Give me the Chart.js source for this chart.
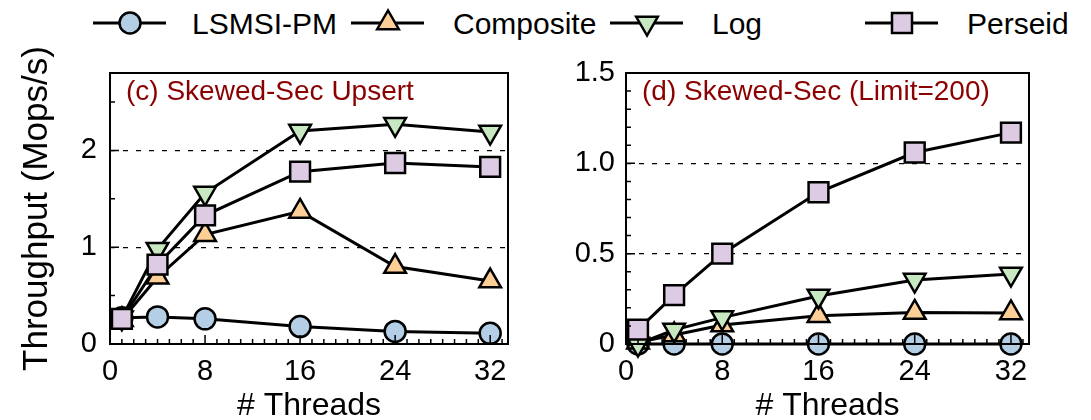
<!DOCTYPE html>
<html>
<head>
<meta charset="utf-8">
<script src="https://cdn.jsdelivr.net/npm/chart.js@4"></script>
<style>
body { margin: 0; background: #fff; }
#wrap { position: relative; width: 1091px; height: 420px; overflow: hidden; font-family: "Liberation Sans", Arial, sans-serif; }
canvas { position: absolute; top: 0; }
#legend { position: absolute; left: 0; top: 0; }
</style>
</head>
<body>
<div id="wrap">
<svg id="legend" width="1091" height="48"></svg>
<canvas id="chartC" width="545" height="420" style="left:0px"></canvas>
<canvas id="chartD" width="546" height="420" style="left:545px"></canvas>
</div>
<script>
const threads = [1, 4, 8, 16, 24, 32];
const seriesNames = ['LSMSI-PM', 'Composite', 'Log', 'Perseid'];

// (c) Skewed-Sec Upsert, Mops/s
const upsertLsmsi = [0.27, 0.28, 0.26, 0.18, 0.13, 0.11];
const upsertComposite = [0.25, 0.69, 1.13, 1.37, 0.80, 0.65];
const upsertLog = [0.27, 0.98, 1.56, 2.20, 2.27, 2.19];
const upsertPerseid = [0.26, 0.82, 1.33, 1.78, 1.87, 1.83];

// (d) Skewed-Sec (Limit=200), Mops/s
const limitLsmsi = [0.0, 0.0, 0.0, 0.0, 0.0, 0.0];
const limitComposite = [0.01, 0.05, 0.105, 0.157, 0.175, 0.172];
const limitLog = [0.0, 0.078, 0.146, 0.266, 0.354, 0.387];
const limitPerseid = [0.08, 0.27, 0.50, 0.84, 1.06, 1.17];

const xTicks = [0, 8, 16, 24, 32];
const upsertYTicks = [0, 1, 2];
const limitYTicks = [0, 0.5, 1.0, 1.5];

const FONT = '"Liberation Sans", Arial, sans-serif';
const styles = [
    {fill: '#b3cee5', shape: 'circle', r: 10.5, rot: 0, order: 3},
    {fill: '#fdcf96', shape: 'triangle', r: 12.5, rot: 0, order: 2},
    {fill: '#c8e8c1', shape: 'triangle', r: 12.5, rot: 180, order: 1},
    {fill: '#ddcbe3', shape: 'rect', r: 14, rot: 0, order: 0}
];

// frame box + inward ticks like the matplotlib original
const frameTicks = {
    id: 'frameTicks',
    afterDatasetsDraw(chart, args, o) {
        const {ctx, chartArea: a, scales: {x, y}} = chart;
        ctx.save();
        ctx.strokeStyle = '#000';
        ctx.lineWidth = 1.5;
        ctx.beginPath();
        for (let i = 1; i <= 33; i++) {
            const px = x.getPixelForValue(i);
            const len = (i % 8 === 0) ? 9 : 5;
            ctx.moveTo(px, a.bottom);
            ctx.lineTo(px, a.bottom - len);
        }
        const n = Math.round(y.max / o.yMinor);
        for (let i = 1; i < n; i++) {
            const v = i * o.yMinor;
            const py = y.getPixelForValue(v);
            const major = Math.abs(v / o.yMajor - Math.round(v / o.yMajor)) < 1e-6;
            ctx.moveTo(a.left, py);
            ctx.lineTo(a.left + (major ? 9 : 5), py);
        }
        ctx.stroke();
        ctx.lineWidth = 2;
        ctx.strokeRect(a.left, a.top, a.right - a.left, a.bottom - a.top);
        ctx.restore();
    }
};

const panelTitle = {
    id: 'panelTitle',
    afterDraw(chart, args, o) {
        const {ctx, chartArea: a} = chart;
        ctx.save();
        ctx.fillStyle = '#8b0000';
        ctx.font = '28px ' + FONT;
        ctx.textBaseline = 'middle';
        ctx.fillText(o.text, a.left + o.dx, 92);
        ctx.restore();
    }
};

function makePanel(id, values, opts) {
    const datasets = values.map((vals, i) => ({
        label: seriesNames[i],
        data: threads.map((t, j) => ({x: t, y: vals[j]})),
        borderColor: '#000',
        borderWidth: 3,
        pointStyle: styles[i].shape,
        pointRadius: styles[i].r,
        pointRotation: styles[i].rot,
        pointBackgroundColor: styles[i].fill,
        pointBorderColor: '#000',
        pointBorderWidth: 2.5,
        order: styles[i].order,
        clip: false,
        tension: 0
    }));

    return new Chart(document.getElementById(id), {
        type: 'line',
        data: {datasets},
        plugins: [frameTicks, panelTitle],
        options: {
            responsive: false,
            animation: false,
            devicePixelRatio: 1,
            layout: {padding: {left: 0, right: opts.padRight, top: 73, bottom: 0}},
            plugins: {
                legend: {display: false},
                tooltip: {enabled: false},
                frameTicks: {yMinor: opts.yMinor, yMajor: opts.yMajor},
                panelTitle: {text: opts.title, dx: 16}
            },
            scales: {
                x: {
                    type: 'linear',
                    min: 0,
                    max: 33.5,
                    afterBuildTicks: (s) => { s.ticks = xTicks.map(v => ({value: v})); },
                    afterFit: (s) => { s.height = 76; },
                    grid: {display: false},
                    border: {display: false},
                    ticks: {color: '#000', padding: 3, font: {family: FONT, size: 29}, maxRotation: 0},
                    title: {display: true, text: '# Threads', color: '#000', padding: 0,
                        font: {family: FONT, size: 32, lineHeight: 0.85}}
                },
                y: {
                    min: 0,
                    max: opts.yMax,
                    afterBuildTicks: (s) => { s.ticks = opts.yTicks.map(v => ({value: v})); },
                    afterFit: (s) => { s.width = opts.yWidth; },
                    grid: {
                        drawTicks: false,
                        lineWidth: 1.3,
                        color: (c) => (c.tick && c.tick.value > 0 && c.tick.value < opts.yMax) ? '#000' : 'rgba(0,0,0,0)'
                    },
                    border: {display: false, dash: [5, 8]},
                    ticks: {
                        color: '#000',
                        padding: opts.yPad,
                        font: {family: FONT, size: 29},
                        callback: opts.yFmt
                    },
                    title: {display: opts.yTitle !== '', text: opts.yTitle, color: '#000',
                        padding: {top: 18, bottom: 0}, font: {family: FONT, size: 35, lineHeight: 1.1}}
                }
            }
        }
    });
}

makePanel('chartC', [upsertLsmsi, upsertComposite, upsertLog, upsertPerseid], {
    title: '(c) Skewed-Sec Upsert',
    yMax: 2.8, yTicks: upsertYTicks, yMinor: 0.5, yMajor: 1,
    yWidth: 110, yPad: 13, padRight: 37,
    yTitle: 'Throughput (Mops/s)',
    yFmt: (v) => String(v)
});

makePanel('chartD', [limitLsmsi, limitComposite, limitLog, limitPerseid], {
    title: '(d) Skewed-Sec (Limit=200)',
    yMax: 1.5, yTicks: limitYTicks, yMinor: 0.1, yMajor: 0.5,
    yWidth: 81, yPad: 11, padRight: 62,
    yTitle: '',
    yFmt: (v) => v === 0 ? '0' : v.toFixed(1)
});

// shared legend across the top
const legendX = [130, 388, 647, 902];
const legendTextX = [192, 453, 712, 967];
const svg = document.getElementById('legend');
const NS = 'http://www.w3.org/2000/svg';
function el(tag, attrs) {
    const e = document.createElementNS(NS, tag);
    for (const k in attrs) e.setAttribute(k, attrs[k]);
    svg.appendChild(e);
    return e;
}
seriesNames.forEach((name, i) => {
    const cx = legendX[i], cy = 23;
    el('line', {x1: cx - 37, y1: cy, x2: cx + 36, y2: cy, stroke: '#000', 'stroke-width': 3});
    const st = {fill: styles[i].fill, stroke: '#000', 'stroke-width': 2.5};
    if (styles[i].shape === 'circle') {
        el('circle', Object.assign({cx, cy, r: 10.5}, st));
    } else if (styles[i].shape === 'rect') {
        el('rect', Object.assign({x: cx - 10, y: cy - 10, width: 20, height: 20}, st));
    } else {
        const d = styles[i].rot ? 1 : -1, r = 12.5, h = r * 0.866;
        const pts = [[cx, cy + d * r], [cx - h, cy - d * r / 2], [cx + h, cy - d * r / 2]];
        el('polygon', Object.assign({points: pts.map(p => p.join(',')).join(' ')}, st));
    }
    const t = el('text', {x: legendTextX[i], y: 34, 'font-size': 30, 'font-family': FONT.replace(/"/g, ''), fill: '#000'});
    t.textContent = name;
});
</script>
</body>
</html>
